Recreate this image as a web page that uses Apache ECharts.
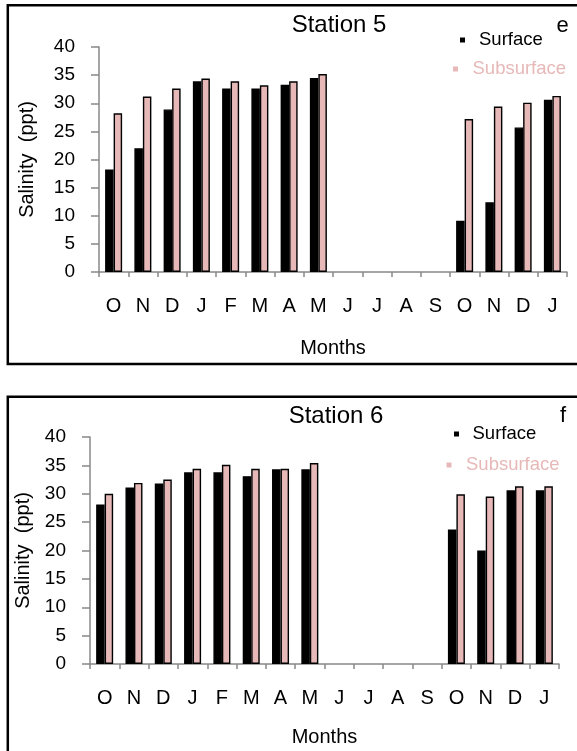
<!DOCTYPE html>
<html>
<head>
<meta charset="utf-8">
<script src="https://cdn.jsdelivr.net/npm/echarts@6/dist/echarts.min.js"></script>
<style>
html,body{margin:0;padding:0;background:#fff;}
#chart{width:577px;height:751px;}
</style>
</head>
<body>
<div id="chart"></div>
<script>
const months = ['O','N','D','J','F','M','A','M','J','J','A','S','O','N','D','J'];
const yTicks = [0, 40, 5];
const station5Surface    = [18.2, 22.0, 28.9, 33.9, 32.6, 32.6, 33.3, 34.5, null, null, null, null, 9.1, 12.4, 25.7, 30.6];
const station5Subsurface = [28.2, 31.2, 32.6, 34.4, 33.9, 33.2, 33.9, 35.2, null, null, null, null, 27.2, 29.4, 30.1, 31.3];
const station6Surface    = [28.1, 31.1, 31.8, 33.8, 33.8, 33.1, 34.3, 34.3, null, null, null, null, 23.7, 20.0, 30.6, 30.6];
const station6Subsurface = [30.0, 31.9, 32.5, 34.4, 35.1, 34.4, 34.4, 35.4, null, null, null, null, 29.9, 29.5, 31.3, 31.3];

const FONT = '"Liberation Sans", Arial, sans-serif';
const PINK = '#e6b9b8';
const AXIS = '#888888';

function xAxis(gi, nameGap) {
  return {
    type: 'category', gridIndex: gi, data: months, boundaryGap: true,
    axisLine: {lineStyle: {color: AXIS, width: 1.5}},
    axisTick: {show: true, length: 5, lineStyle: {color: AXIS, width: 1.5}},
    axisLabel: {color: '#000', fontFamily: FONT, fontSize: 20, margin: 24, interval: 0},
    name: 'Months', nameLocation: 'middle', nameGap: nameGap,
    nameTextStyle: {color: '#000', fontFamily: FONT, fontSize: 20}
  };
}
function yAxis(gi, nameGap) {
  return {
    type: 'value', gridIndex: gi, min: yTicks[0], max: yTicks[1], interval: yTicks[2],
    splitLine: {show: false},
    axisLine: {show: true, lineStyle: {color: AXIS, width: 1.5}},
    axisTick: {show: true, length: 8, lineStyle: {color: AXIS, width: 1.5}},
    axisLabel: {color: '#000', fontFamily: FONT, fontSize: 19, margin: 24},
    name: 'Salinity  (ppt)', nameLocation: 'middle', nameGap: nameGap, nameRotate: 90,
    nameTextStyle: {color: '#000', fontFamily: FONT, fontSize: 20}
  };
}
function bar(name, data, gi, color) {
  return {
    type: 'bar', name: name, xAxisIndex: gi, yAxisIndex: gi, data: data,
    barWidth: 8.5, barGap: '0%',
    itemStyle: {color: color, borderColor: '#000', borderWidth: 1.4},
    emphasis: {disabled: true}
  };
}
function legend(name, color, left, top, pad) {
  return {
    data: [{name: name, itemStyle: {color: color, borderWidth: 0}, textStyle: {color: color}}],
    left: left, top: top, padding: 0, icon: 'rect', itemWidth: 5, itemHeight: 5,
    selectedMode: false,
    textStyle: {fontFamily: FONT, fontSize: 18.5, lineHeight: 20, padding: [0, 0, 0, pad]}
  };
}

const chart = echarts.init(document.getElementById('chart'), null, {renderer: 'canvas'});
chart.setOption({
  animation: false,
  backgroundColor: '#fff',
  grid: [
    {left: 99, top: 47, width: 468, height: 225},
    {left: 90, top: 437, width: 469, height: 227}
  ],
  xAxis: [xAxis(0, 66), xAxis(1, 63)],
  yAxis: [yAxis(0, 62), yAxis(1, 54)],
  legend: [
    legend('Surface', '#000', 460, 30, 9),
    legend('Subsurface', PINK, 453, 59, 9.5),
    legend('Surface', '#000', 454, 424, 8.5),
    legend('Subsurface', PINK, 446.5, 455, 9.5)
  ],
  series: [
    bar('Surface', station5Surface, 0, '#000'),
    bar('Subsurface', station5Subsurface, 0, PINK),
    bar('Surface', station6Surface, 1, '#000'),
    bar('Subsurface', station6Subsurface, 1, PINK)
  ],
  graphic: [
    {type: 'rect', shape: {x: 7.8, y: 5.3, width: 600, height: 358.7}, style: {fill: 'none', stroke: '#000', lineWidth: 2.5}, silent: true},
    {type: 'rect', shape: {x: 7.8, y: 396.8, width: 600, height: 400}, style: {fill: 'none', stroke: '#000', lineWidth: 2.5}, silent: true},
    {type: 'text', x: 339, y: 25, style: {text: 'Station 5', fill: '#000', font: '24px ' + FONT, textAlign: 'center', textVerticalAlign: 'middle'}, silent: true},
    {type: 'text', x: 562.5, y: 26, style: {text: 'e', fill: '#000', font: '22px ' + FONT, textAlign: 'center', textVerticalAlign: 'middle'}, silent: true},
    {type: 'text', x: 336, y: 416.5, style: {text: 'Station 6', fill: '#000', font: '24px ' + FONT, textAlign: 'center', textVerticalAlign: 'middle'}, silent: true},
    {type: 'text', x: 563, y: 416, style: {text: 'f', fill: '#000', font: '22px ' + FONT, textAlign: 'center', textVerticalAlign: 'middle'}, silent: true}
  ]
});
</script>
</body>
</html>
